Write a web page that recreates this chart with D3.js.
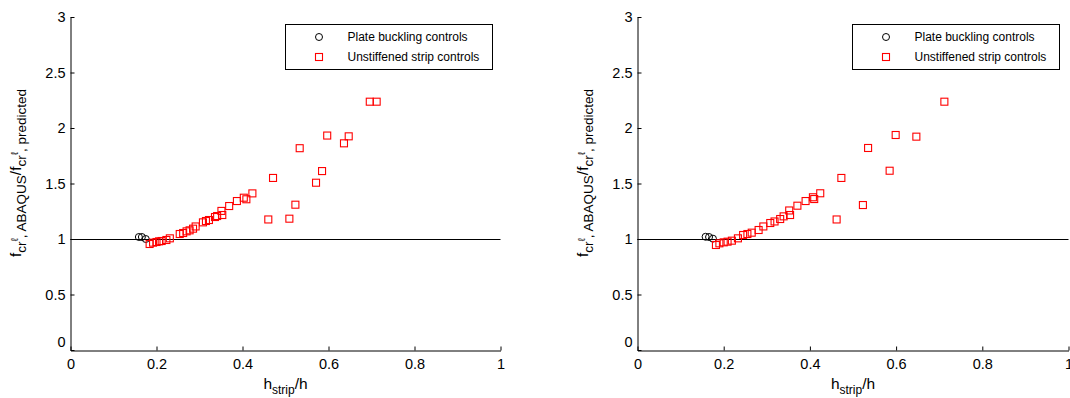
<!DOCTYPE html>
<html>
<head>
<meta charset="utf-8">
<script src="https://cdn.jsdelivr.net/npm/d3@7"></script>
<style>
  html, body { margin: 0; padding: 0; background: #fff; }
  svg { display: block; font-family: "Liberation Sans", Arial, sans-serif; }
</style>
</head>
<body>
<svg id="chart" width="1070" height="398"></svg>
<script>
// ---------------- data ----------------
const xTicks = [0, 0.2, 0.4, 0.6, 0.8, 1];
const yTicks = [0, 0.5, 1, 1.5, 2, 2.5, 3];
const legendLabels = ["Plate buckling controls", "Unstiffened strip controls"];

// left panel
const leftPlateX = [0.159, 0.166, 0.175];
const leftPlateY = [1.018, 1.018, 1.000];
const leftStripX = [0.184, 0.192, 0.200, 0.206, 0.212, 0.223, 0.231, 0.254, 0.262, 0.270,
                    0.277, 0.285, 0.291, 0.308, 0.315, 0.322, 0.336, 0.341, 0.351, 0.353,
                    0.369, 0.387, 0.403, 0.409, 0.423, 0.460, 0.471, 0.509, 0.523, 0.533,
                    0.571, 0.585, 0.597, 0.636, 0.647, 0.696, 0.712];
const leftStripY = [0.955, 0.967, 0.973, 0.979, 0.982, 0.991, 1.006, 1.045, 1.054, 1.069,
                    1.078, 1.093, 1.113, 1.150, 1.162, 1.171, 1.198, 1.207, 1.253, 1.216,
                    1.297, 1.342, 1.372, 1.358, 1.411, 1.176, 1.550, 1.183, 1.309, 1.818,
                    1.507, 1.612, 1.932, 1.862, 1.925, 2.237, 2.237];

// right panel
const rightPlateX = [0.158, 0.166, 0.175];
const rightPlateY = [1.020, 1.018, 1.003];
const rightStripX = [0.182, 0.190, 0.200, 0.209, 0.219, 0.233, 0.245, 0.255, 0.265, 0.281,
                     0.292, 0.308, 0.318, 0.331, 0.339, 0.354, 0.352, 0.371, 0.390, 0.407,
                     0.410, 0.424, 0.462, 0.473, 0.523, 0.535, 0.585, 0.599, 0.647, 0.712];
const rightStripY = [0.946, 0.961, 0.970, 0.976, 0.985, 1.006, 1.036, 1.045, 1.057, 1.081,
                     1.113, 1.144, 1.158, 1.180, 1.204, 1.216, 1.257, 1.300, 1.342, 1.376,
                     1.360, 1.412, 1.176, 1.550, 1.306, 1.820, 1.615, 1.937, 1.922, 2.237];

const refLineY = 1;

// ---------------- drawing ----------------
const svg = d3.select("#chart");

const panels = [
  { x0: 70.5, x1: 500.5, plateX: leftPlateX, plateY: leftPlateY, stripX: leftStripX, stripY: leftStripY },
  { x0: 637.5, x1: 1068.5, plateX: rightPlateX, plateY: rightPlateY, stripX: rightStripX, stripY: rightStripY }
];

const yTop = 17, yBot = 350;

panels.forEach(p => {
  const x = d3.scaleLinear().domain([0, 1]).range([p.x0, p.x1]);
  const y = d3.scaleLinear().domain([0, 3]).range([yBot, yTop]);
  const g = svg.append("g");

  // reference line y = 1
  g.append("line")
    .attr("x1", x(0)).attr("x2", x(1))
    .attr("y1", Math.round(y(refLineY)) + 0.5).attr("y2", Math.round(y(refLineY)) + 0.5)
    .attr("stroke", "#000").attr("stroke-width", 1);

  // x axis
  const xAxis = d3.axisBottom(x).tickValues(xTicks).tickSizeInner(-4).tickSizeOuter(0)
    .tickFormat(d => d3.format("")(d));
  const gx = g.append("g").attr("transform", `translate(0,${yBot + 0.5})`).call(xAxis);
  gx.select(".domain").attr("stroke", "#000");
  gx.selectAll(".tick line").attr("stroke", "#000");
  gx.selectAll(".tick text").attr("y", 8).attr("dy", "0.71em")
    .attr("font-size", "14.5px").attr("fill", "#000")
    .attr("font-family", "'Liberation Sans', Arial, sans-serif");

  // y axis
  const yAxis = d3.axisLeft(y).tickValues(yTicks).tickSizeInner(-4).tickSizeOuter(0)
    .tickFormat(d => d3.format("")(d));
  const gy = g.append("g").attr("transform", `translate(${p.x0},0)`).call(yAxis);
  gy.select(".domain").attr("stroke", "#000");
  gy.selectAll(".tick line").attr("stroke", "#000");
  gy.selectAll(".tick text").attr("x", -5)
    .attr("font-size", "14.5px").attr("fill", "#000")
    .attr("font-family", "'Liberation Sans', Arial, sans-serif")
    .attr("dy", d => d === 0 ? "-0.25em" : "0.32em");

  // data: plate buckling (circles)
  g.append("g").selectAll("circle")
    .data(p.plateX.map((v, i) => [v, p.plateY[i]]))
    .join("circle")
    .attr("cx", d => x(d[0])).attr("cy", d => y(d[1])).attr("r", 3.5)
    .attr("fill", "none").attr("stroke", "#000").attr("stroke-width", 1);

  // data: unstiffened strip (squares)
  const s = 7;
  g.append("g").selectAll("rect")
    .data(p.stripX.map((v, i) => [v, p.stripY[i]]))
    .join("rect")
    .attr("x", d => x(d[0]) - s / 2).attr("y", d => y(d[1]) - s / 2)
    .attr("width", s).attr("height", s)
    .attr("fill", "none").attr("stroke", "#ff0000").attr("stroke-width", 1.1);

  // legend
  const lx = p.x0 + 215, ly = 24.5, lw = 207, lh = 45;
  const lg = g.append("g");
  lg.append("rect").attr("x", lx).attr("y", ly).attr("width", lw).attr("height", lh)
    .attr("fill", "#fff").attr("stroke", "#000").attr("stroke-width", 1);
  lg.append("circle").attr("cx", lx + 33.5).attr("cy", ly + 12.5).attr("r", 3.5)
    .attr("fill", "none").attr("stroke", "#000");
  lg.append("rect").attr("x", lx + 30).attr("y", ly + 29).attr("width", s).attr("height", s)
    .attr("fill", "none").attr("stroke", "#ff0000").attr("stroke-width", 1.1);
  lg.selectAll("text.leg").data(legendLabels).join("text").attr("class", "leg")
    .attr("x", lx + 62).attr("y", (d, i) => ly + 12.5 + i * 20).attr("dy", "0.35em")
    .attr("font-size", "12px").attr("fill", "#000").text(d => d);

  // x label
  const xl = g.append("text").attr("x", (p.x0 + p.x1) / 2).attr("y", 389)
    .attr("text-anchor", "middle").attr("font-size", "15.5px").attr("fill", "#000");
  xl.append("tspan").text("h");
  xl.append("tspan").attr("font-size", "12px").attr("dy", 5).text("strip");
  xl.append("tspan").attr("dy", -5).text("/h");

  // y label
  const cy = 173;
  const yl = g.append("text")
    .attr("transform", `translate(${p.x0 - 50},${cy}) rotate(-90)`)
    .attr("text-anchor", "middle").attr("font-size", "15.5px").attr("fill", "#000");
  yl.append("tspan").text("f");
  yl.append("tspan").attr("font-size", "13.5px").attr("dy", 5).text("cr");
  yl.append("tspan").attr("font-size", "10px").attr("dy", -8).text("ℓ");
  yl.append("tspan").attr("font-size", "13.5px").attr("dy", 8).text(", ABAQUS");
  yl.append("tspan").attr("dy", -5).text("/f");
  yl.append("tspan").attr("font-size", "13.5px").attr("dy", 5).text("cr");
  yl.append("tspan").attr("font-size", "10px").attr("dy", -8).text("ℓ");
  yl.append("tspan").attr("font-size", "13.5px").attr("dy", 8).text(", predicted");
});
</script>
</body>
</html>
